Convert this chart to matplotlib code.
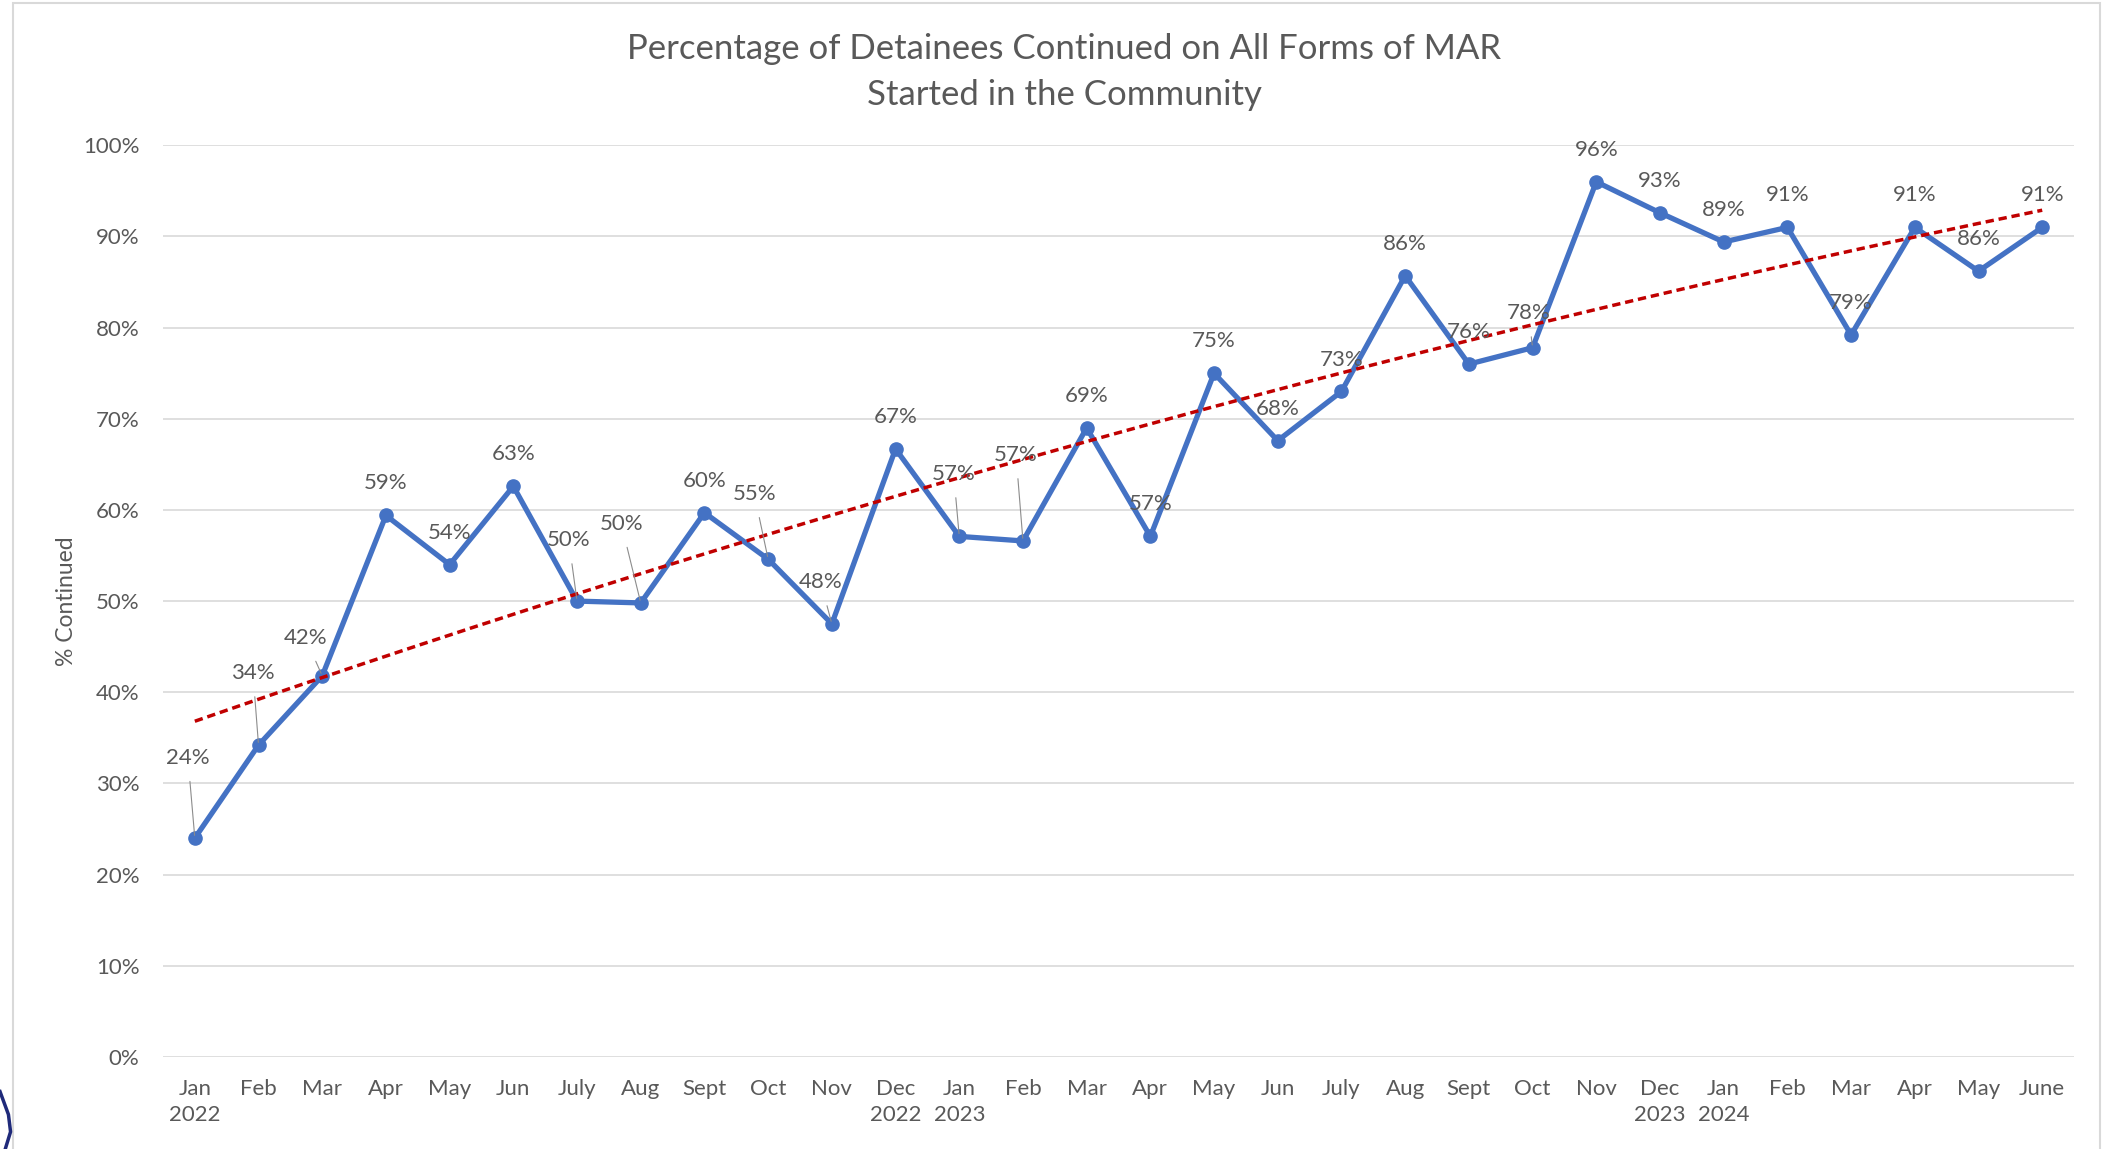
import numpy as np
import matplotlib.pyplot as plt
from matplotlib.patches import Rectangle

plt.rcParams['font.family'] = ['Lato', 'DejaVu Sans']

months = ["Jan\n2022", "Feb", "Mar", "Apr", "May", "Jun", "July", "Aug", "Sept", "Oct", "Nov",
          "Dec\n2022", "Jan\n2023", "Feb", "Mar", "Apr", "May", "Jun", "July", "Aug", "Sept", "Oct",
          "Nov", "Dec\n2023", "Jan\n2024", "Feb", "Mar", "Apr", "May", "June"]
pct = [0.240, 0.342, 0.418, 0.594, 0.540, 0.626, 0.500, 0.498, 0.597, 0.546, 0.475,
       0.667, 0.571, 0.566, 0.690, 0.571, 0.750, 0.676, 0.730, 0.857, 0.760, 0.778,
       0.960, 0.926, 0.894, 0.910, 0.792, 0.910, 0.862, 0.910]
yticks = [0, 0.1, 0.2, 0.3, 0.4, 0.5, 0.6, 0.7, 0.8, 0.9, 1.0]

# label offsets (points) for labels moved away from their marker, with leader lines
moved = {0: (-5, -58), 1: (-4, -52), 2: (-12, -27), 6: (-6, -44), 7: (-14, -57),
         9: (-10, -47), 10: (-8, -30), 12: (-4, -45), 13: (-5, -62), 21: (-3, -25)}

GRAY = '#595959'
BLUE = '#4472C4'

fig = plt.figure(figsize=(21.11, 11.49), dpi=100)
ax = fig.add_axes([0.0772, 0.0802, 0.9053, 0.7933])

x = np.arange(len(pct))
ax.plot(x, pct, color=BLUE, lw=3.8, marker='o', ms=9.5, zorder=3, solid_joinstyle='round')

# polynomial (order 2) trendline, like the Excel one
coef = np.polyfit(x, pct, 2)
xs = np.linspace(0, len(pct) - 1, 200)
ax.plot(xs, np.polyval(coef, xs), color='#C00000', lw=2.5, ls=(0, (2.4, 1.4)), zorder=4)

for i, v in enumerate(pct):
    lab = f"{round(v * 100):d}%"
    if i in moved:
        dx, dy = moved[i]
        ax.annotate(lab, (i, v), xytext=(dx, -dy), textcoords='offset points',
                    ha='center', va='center', fontsize=16, color=GRAY, zorder=5,
                    arrowprops=dict(arrowstyle='-', color='#8c8c8c', lw=0.8,
                                    shrinkA=8, shrinkB=2))
    else:
        ax.annotate(lab, (i, v), xytext=(0, 23), textcoords='offset points',
                    ha='center', va='center', fontsize=16, color=GRAY, zorder=5)

ax.set_xlim(-0.5, len(pct) - 0.5)
ax.set_ylim(0, 1.0)
ax.set_yticks(yticks)
ax.set_yticklabels([f"{int(round(t * 100))}%" for t in yticks])
ax.set_xticks(x)
ax.set_xticklabels(months, linespacing=1.4)
ax.tick_params(axis='both', length=0, labelsize=16, labelcolor=GRAY)
ax.tick_params(axis='y', pad=17)
ax.tick_params(axis='x', pad=16)
ax.grid(axis='y', color='#D9D9D9', lw=1.2)
ax.set_axisbelow(True)
for s in ax.spines.values():
    s.set_visible(False)

ax.set_ylabel("% Continued", fontsize=16.5, color=GRAY)
ax.yaxis.set_label_coords(-0.045, 0.5)

fig.text(0.504, 0.9375, "Percentage of Detainees Continued on All Forms of MAR\nStarted in the Community",
         ha='center', va='center', fontsize=25, color=GRAY, linespacing=1.55)

# chart area border
fig.patches.append(Rectangle((13 / 2111, -0.01), (2100 - 13) / 2111, 1.0 - 3 / 1149 + 0.01,
                             transform=fig.transFigure, fill=False, ec='#D9D9D9', lw=1.5))
# piece of a neighbouring shape at the lower left edge
fig.lines.append(plt.Line2D([0.0, 0.004, 0.005, 0.0025], [0.05, 0.03, 0.015, 0.0],
                            transform=fig.transFigure, color='#1F2A7A', lw=2.5))

fig.savefig("out.png", dpi=100)
